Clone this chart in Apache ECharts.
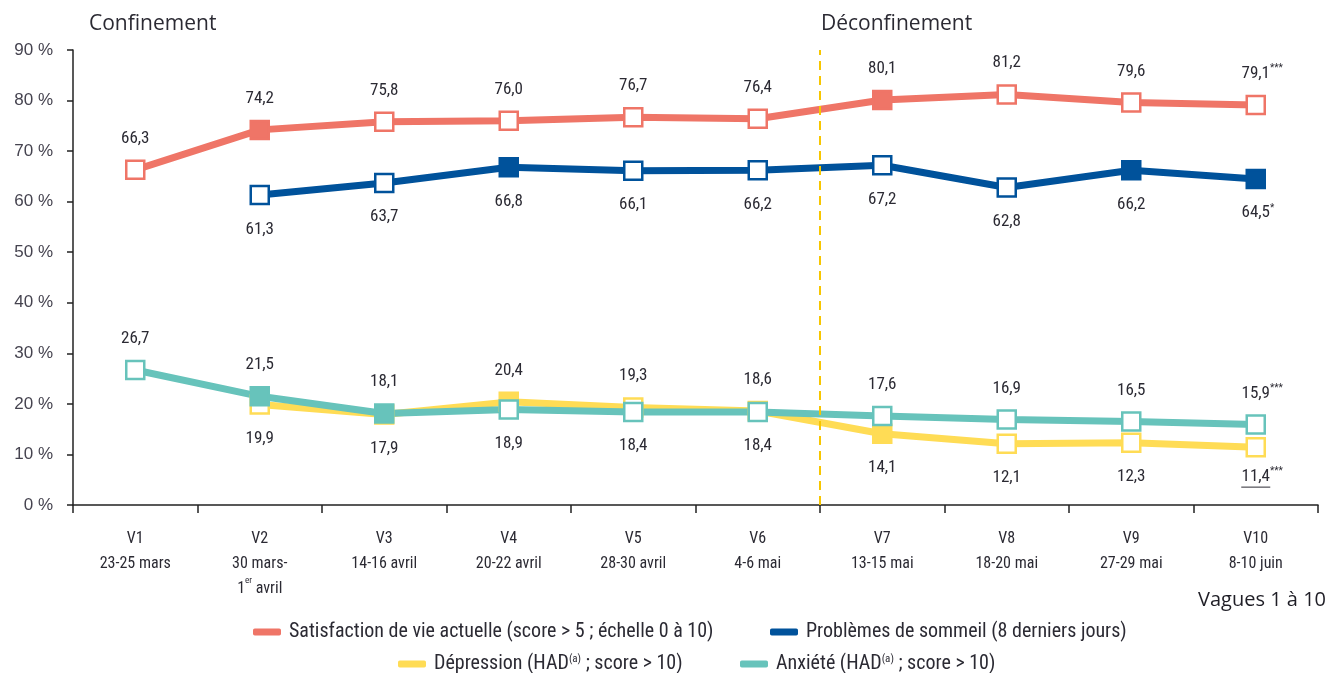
<!DOCTYPE html>
<html>
<head>
<meta charset="utf-8">
<script src="https://cdn.jsdelivr.net/npm/echarts@6/dist/echarts.min.js"></script>
<style>html,body{margin:0;padding:0;background:#fff}#c{width:1341px;height:673px}</style>
</head>
<body>
<div id="c"></div>
<script>
const waves = ['V1','V2','V3','V4','V5','V6','V7','V8','V9','V10'];
const dates = ['23-25 mars','30 mars-\n1{sup|er} avril','14-16 avril','20-22 avril','28-30 avril','4-6 mai','13-15 mai','18-20 mai','27-29 mai','8-10 juin'];
const yTicks = [0,10,20,30,40,50,60,70,80,90];

const satisfaction = [66.3,74.2,75.8,76.0,76.7,76.4,80.1,81.2,79.6,79.1];
const satisfactionFilled = [false,true,false,false,false,false,true,false,false,false];
const satisfactionNotes = ['','','','','','','','','','***'];

const sommeil = [null,61.3,63.7,66.8,66.1,66.2,67.2,62.8,66.2,64.5];
const sommeilFilled = [false,false,false,true,false,false,false,false,true,true];
const sommeilNotes = ['','','','','','','','','','*'];

const depression = [null,19.9,17.9,20.4,19.3,18.6,14.1,12.1,12.3,11.4];
const depressionFilled = [false,false,true,true,false,false,true,false,false,false];
const depressionNotes = ['','','','','','','','','','***'];
const depressionUnderline = [false,false,false,false,false,false,false,false,false,true];
const depressionPos = ['bottom','bottom','bottom','top','top','top','bottom','bottom','bottom','bottom'];

const anxiete = [26.7,21.5,18.1,18.9,18.4,18.4,17.6,16.9,16.5,15.9];
const anxieteFilled = [false,true,true,false,false,false,false,false,false,false];
const anxieteNotes = ['','','','','','','','','','***'];
const anxietePos = ['top','top','top','bottom','bottom','bottom','top','top','top','top'];

const names = {
  sat: 'Satisfaction de vie actuelle (score > 5 ; échelle 0 à 10)',
  som: 'Problèmes de sommeil (8 derniers jours)',
  dep: 'Dépression (HAD(a) ; score > 10)',
  anx: 'Anxiété (HAD(a) ; score > 10)'
};
const colors = { sat: '#EF7567', som: '#00529B', dep: '#FFDC55', anx: '#67C3BB' };

const NARROW = "'Liberation Sans Narrow', 'Roboto Condensed', 'DejaVu Sans Condensed', sans-serif";
const TXT = '#2b2a33';

const fmt = v => v.toFixed(1).replace('.', ',');

const labelRich = {
  v: { fontSize: 17, color: TXT, fontFamily: NARROW, lineHeight: 20 },
  s: { fontSize: 10, color: TXT, fontFamily: NARROW, verticalAlign: 'top', lineHeight: 12 },
  h: { fontSize: 10, color: 'transparent', fontFamily: NARROW, verticalAlign: 'top', lineHeight: 12 },
  u: { width: 29, height: 1, lineHeight: 1, backgroundColor: TXT, fontSize: 1 }
};

function makeSeries(key, values, filled, positions, notes, underline) {
  const c = colors[key];
  return {
    name: names[key],
    type: 'line',
    symbol: 'rect',
    symbolSize: 18,
    showAllSymbol: true,
    connectNulls: false,
    lineStyle: { color: c, width: 7 },
    itemStyle: { color: c },
    emphasis: { disabled: true },
    z: 2,
    data: values.map((v, i) => {
      if (v == null) return '-';
      const pos = positions[i];
      const ul = underline && underline[i];
      let txt = notes[i] ? `{h|${notes[i]}}{v|${fmt(v)}}{s|${notes[i]}}` : `{v|${fmt(v)}}`;
      if (ul) txt += '\n{u| }';
      return {
        value: v,
        itemStyle: filled[i]
          ? { color: c, borderColor: c, borderWidth: 2.5 }
          : { color: '#ffffff', borderColor: c, borderWidth: 2.5 },
        label: {
          show: true,
          position: pos,
          distance: pos === 'top' ? 11 : (ul ? 9 : 14),
          formatter: () => txt,
          rich: labelRich
        }
      };
    })
  };
}

const allTop = waves.map(() => 'top');
const allBottom = waves.map(() => 'bottom');

const chart = echarts.init(document.getElementById('c'), null, { renderer: 'canvas' });

function legendAt(key, left, top) {
  return {
    data: [names[key]],
    left: left, top: top,
    icon: 'roundRect',
    itemWidth: 28, itemHeight: 7,
    selectedMode: false,
    itemStyle: { borderWidth: 0 },
    textStyle: { fontSize: 20, color: TXT, fontFamily: NARROW, padding: [0, 0, 0, 3],
      rich: { s: { fontSize: 11, color: TXT, fontFamily: NARROW, verticalAlign: 'top', lineHeight: 11 } } },
    formatter: n => n.replace('(a)', '{s|(a)}')
  };
}

chart.setOption({
  animation: false,
  backgroundColor: '#ffffff',
  grid: { left: 73, right: 23, top: 50, bottom: 168, containLabel: false },
  legend: [
    legendAt('sat', 248, 617),
    legendAt('som', 765, 617),
    legendAt('dep', 393, 649),
    legendAt('anx', 735, 649)
  ],
  graphic: [
    { type: 'text', left: 89, top: 14, style: { text: 'Confinement', font: "21px 'Open Sans', 'Liberation Sans', sans-serif", fill: TXT } },
    { type: 'text', left: 821, top: 14, style: { text: 'Déconfinement', font: "21px 'Open Sans', 'Liberation Sans', sans-serif", fill: TXT } },
    { type: 'text', right: 15, top: 590, style: { text: 'Vagues 1 à 10', font: "20px 'Open Sans', 'Liberation Sans', sans-serif", fill: '#1f1e26' } }
  ],
  xAxis: [
    {
      type: 'category',
      data: waves.map((w, i) => w + '\n' + dates[i]),
      boundaryGap: true,
      axisLine: { lineStyle: { color: '#222', width: 1.5 } },
      axisTick: { show: true, length: 8, alignWithLabel: false, lineStyle: { color: '#222', width: 1.5 } },
      axisLabel: {
        interval: 0, margin: 21, fontSize: 16, lineHeight: 25, color: TXT, fontFamily: NARROW,
        rich: { sup: { fontSize: 9, color: TXT, fontFamily: NARROW, verticalAlign: 'top', lineHeight: 16 } }
      },
      splitLine: { show: false }
    },
    { type: 'value', min: 0, max: 10, show: false }
  ],
  yAxis: {
    type: 'value', min: yTicks[0], max: yTicks[yTicks.length - 1], interval: 10,
    axisLine: { show: true, lineStyle: { color: '#222', width: 1.5 } },
    axisTick: { show: true, length: 6, lineStyle: { color: '#222', width: 1.5 } },
    axisLabel: { formatter: '{value} %', fontSize: 17, color: '#45434f', fontFamily: "'Liberation Sans', Arial, sans-serif", margin: 20 },
    splitLine: { show: false }
  },
  series: [
    {
      name: 'sep', type: 'line', xAxisIndex: 1, yAxisIndex: 0, data: [], silent: true,
      markLine: {
        silent: true, symbol: ['none', 'none'], label: { show: false },
        lineStyle: { color: '#F7C600', type: [9, 6], width: 2 },
        data: [{ xAxis: 6 }]
      }
    },
    makeSeries('dep', depression, depressionFilled, depressionPos, depressionNotes, depressionUnderline),
    makeSeries('anx', anxiete, anxieteFilled, anxietePos, anxieteNotes, null),
    makeSeries('som', sommeil, sommeilFilled, allBottom, sommeilNotes, null),
    makeSeries('sat', satisfaction, satisfactionFilled, allTop, satisfactionNotes, null)
  ]
});
</script>
</body>
</html>
